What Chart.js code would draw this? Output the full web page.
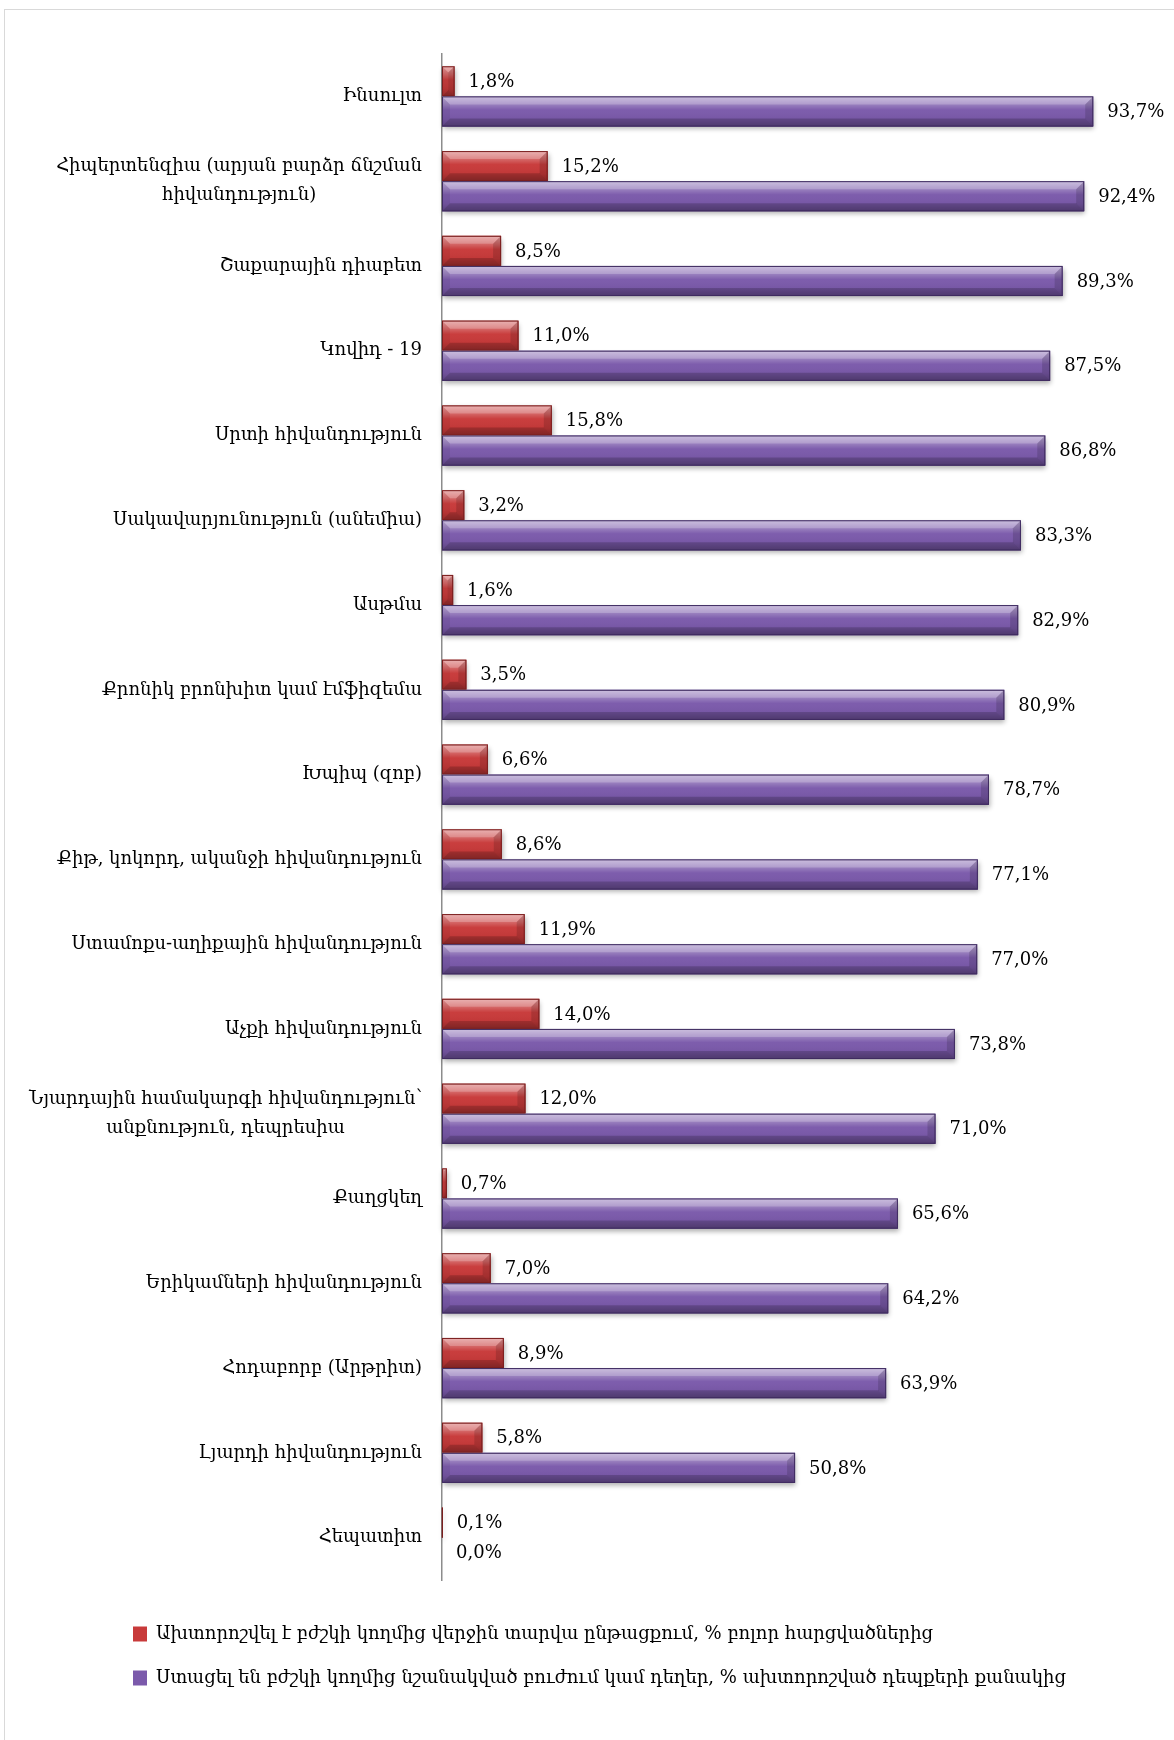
<!DOCTYPE html>
<html>
<head>
<meta charset="utf-8">
<script src="https://cdn.jsdelivr.net/npm/chart.js@4"></script>
<style>
  html, body { margin: 0; padding: 0; background: #ffffff; }
  #frame {
    position: absolute; left: 4px; top: 9px; width: 1200px; height: 1800px;
    border: 1px solid #d9d9d9; box-sizing: border-box;
  }
  #chart { position: absolute; left: 0; top: 0; }
</style>
</head>
<body>
<div id="frame"></div>
<canvas id="chart" width="1174" height="1740"></canvas>
<script>
const categories = [
  ['Ինսուլտ'],
  ['Հիպերտենզիա (արյան բարձր ճնշման', 'հիվանդություն)'],
  ['Շաքարային դիաբետ'],
  ['Կովիդ - 19'],
  ['Սրտի հիվանդություն'],
  ['Սակավարյունություն (անեմիա)'],
  ['Ասթմա'],
  ['Քրոնիկ բրոնխիտ կամ էմֆիզեմա'],
  ['Խպիպ (զոբ)'],
  ['Քիթ, կոկորդ, ականջի հիվանդություն'],
  ['Ստամոքս-աղիքային հիվանդություն'],
  ['Աչքի հիվանդություն'],
  ['Նյարդային համակարգի հիվանդություն՝', 'անքնություն, դեպրեսիա'],
  ['Քաղցկեղ'],
  ['Երիկամների հիվանդություն'],
  ['Հոդաբորբ (Արթրիտ)'],
  ['Լյարդի հիվանդություն'],
  ['Հեպատիտ']
];

const diagnosed = [1.8, 15.2, 8.5, 11.0, 15.8, 3.2, 1.6, 3.5, 6.6, 8.6, 11.9, 14.0, 12.0, 0.7, 7.0, 8.9, 5.8, 0.1];
const treated = [93.7, 92.4, 89.3, 87.5, 86.8, 83.3, 82.9, 80.9, 78.7, 77.1, 77.0, 73.8, 71.0, 65.6, 64.2, 63.9, 50.8, 0.0];

const seriesNames = [
  'Ախտորոշվել է բժշկի կողմից վերջին տարվա ընթացքում, % բոլոր հարցվածներից',
  'Ստացել են բժշկի կողմից նշանակված բուժում կամ դեղեր, % ախտորոշված դեպքերի քանակից'
];

const FONT = "'DejaVu Serif', serif";
Chart.defaults.font.family = FONT;
Chart.defaults.color = '#000000';

function fmt(v) {
  return v.toFixed(1).replace('.', ',') + '%';
}

// drop shadow under every bar, drawn before the bars themselves
const barShadow = {
  id: 'barShadow',
  beforeDatasetsDraw(chart) {
    const ctx = chart.ctx;
    chart.data.datasets.forEach((ds, di) => {
      const meta = chart.getDatasetMeta(di);
      meta.data.forEach(bar => {
        const w = bar.x - bar.base;
        if (w <= 0.5) return;
        ctx.save();
        ctx.shadowColor = 'rgba(0,0,0,0.32)';
        ctx.shadowBlur = 5;
        ctx.shadowOffsetX = 1;
        ctx.shadowOffsetY = 3;
        ctx.fillStyle = ds.borderColor;
        ctx.fillRect(bar.base, bar.y - bar.height / 2, w, bar.height);
        ctx.restore();
      });
    });
  }
};

// bevelled look on top of the flat bars
const barBevel = {
  id: 'barBevel',
  afterDatasetsDraw(chart) {
    const ctx = chart.ctx;
    chart.data.datasets.forEach((ds, di) => {
      const meta = chart.getDatasetMeta(di);
      meta.data.forEach(bar => {
        const L = bar.base, R = bar.x;
        const T = bar.y - bar.height / 2, B = bar.y + bar.height / 2;
        const w = R - L, h = B - T;
        if (w <= 0.5) return;
        const b = Math.min(8, w / 2, h / 3);
        ctx.save();

        const g = ctx.createLinearGradient(0, T, 0, B);
        g.addColorStop(0, 'rgba(255,255,255,0.50)');
        g.addColorStop(0.28, 'rgba(255,255,255,0.22)');
        g.addColorStop(0.45, 'rgba(255,255,255,0.02)');
        g.addColorStop(0.75, 'rgba(0,0,0,0.04)');
        g.addColorStop(1, 'rgba(0,0,0,0.22)');
        ctx.fillStyle = g;
        ctx.fillRect(L, T, w, h);

        const face = (pts, color) => {
          ctx.beginPath();
          ctx.moveTo(pts[0][0], pts[0][1]);
          for (let i = 1; i < pts.length; i++) ctx.lineTo(pts[i][0], pts[i][1]);
          ctx.closePath();
          ctx.fillStyle = color;
          ctx.fill();
        };
        face([[L, T], [R, T], [R - b, T + b], [L + b, T + b]], 'rgba(255,255,255,0.22)');
        face([[L, B], [R, B], [R - b, B - b], [L + b, B - b]], 'rgba(0,0,0,0.18)');
        face([[L, T], [L + b, T + b], [L + b, B - b], [L, B]], 'rgba(0,0,0,0.06)');
        face([[R, T], [R - b, T + b], [R - b, B - b], [R, B]], 'rgba(0,0,0,0.14)');

        ctx.strokeStyle = ds.borderColor;
        ctx.lineWidth = 1;
        ctx.strokeRect(L + 0.5, T + 0.5, w - 1, h - 1);
        ctx.restore();
      });
    });
  }
};

// value labels to the right of each bar end
const valueLabels = {
  id: 'valueLabels',
  afterDatasetsDraw(chart) {
    const ctx = chart.ctx;
    ctx.save();
    ctx.font = '18px ' + FONT;
    ctx.fillStyle = '#000000';
    ctx.textAlign = 'left';
    ctx.textBaseline = 'middle';
    chart.data.datasets.forEach((ds, di) => {
      const meta = chart.getDatasetMeta(di);
      meta.data.forEach((bar, i) => {
        ctx.fillText(fmt(ds.data[i]), bar.x + 14, bar.y + 1);
      });
    });
    ctx.restore();
  }
};

// category names: block right-aligned to the axis, lines centred within the block
const categoryLabels = {
  id: 'categoryLabels',
  afterDraw(chart) {
    const ctx = chart.ctx;
    const yScale = chart.scales.y;
    const right = chart.chartArea.left - 20;
    const lineH = 29;
    ctx.save();
    ctx.font = '18px ' + FONT;
    ctx.fillStyle = '#000000';
    ctx.textAlign = 'center';
    ctx.textBaseline = 'middle';
    categories.forEach((lines, i) => {
      const y = yScale.getPixelForTick(i);
      const maxW = Math.max(...lines.map(t => ctx.measureText(t).width));
      const cx = right - maxW / 2;
      const y0 = y - (lines.length - 1) * lineH / 2;
      lines.forEach((t, k) => ctx.fillText(t, cx, y0 + k * lineH));
    });
    ctx.restore();
  }
};

// legend rows start near the left edge, under the labels
const legendPlace = {
  id: 'legendPlace',
  afterLayout(chart) {
    const lg = chart.legend;
    lg.left = 107;
    lg.right = chart.width;
    lg.top = 1599;
    lg.bottom = chart.height;
    lg.width = lg.right - lg.left;
    lg.height = lg.bottom - lg.top;
  }
};

const ctx = document.getElementById('chart').getContext('2d');
new Chart(ctx, {
  type: 'bar',
  data: {
    labels: categories.map(l => l.join(' ')),
    datasets: [
      {
        label: seriesNames[0],
        data: diagnosed,
        backgroundColor: '#c83a3a',
        borderColor: '#7a1e1e',
        borderWidth: 0
      },
      {
        label: seriesNames[1],
        data: treated,
        backgroundColor: '#7b5aab',
        borderColor: '#3f2b60',
        borderWidth: 0
      }
    ]
  },
  options: {
    indexAxis: 'y',
    responsive: false,
    animation: false,
    layout: { padding: { top: 54, right: 37, bottom: 62, left: 0 } },
    datasets: {
      bar: { categoryPercentage: 0.71, barPercentage: 1.0 }
    },
    scales: {
      x: { display: false, min: 0, max: 100 },
      y: {
        grid: { display: false, drawTicks: false },
        border: { display: true, color: '#8c8c8c', width: 1.5 },
        ticks: { display: false },
        afterFit(scale) { scale.width = 442; }
      }
    },
    plugins: {
      legend: {
        position: 'bottom',
        align: 'start',
        labels: {
          boxWidth: 14,
          boxHeight: 15,
          padding: 26,
          color: '#000000',
          font: { size: 18, family: FONT }
        }
      },
      tooltip: { enabled: false }
    }
  },
  plugins: [legendPlace, barShadow, barBevel, valueLabels, categoryLabels]
});
</script>
</body>
</html>
